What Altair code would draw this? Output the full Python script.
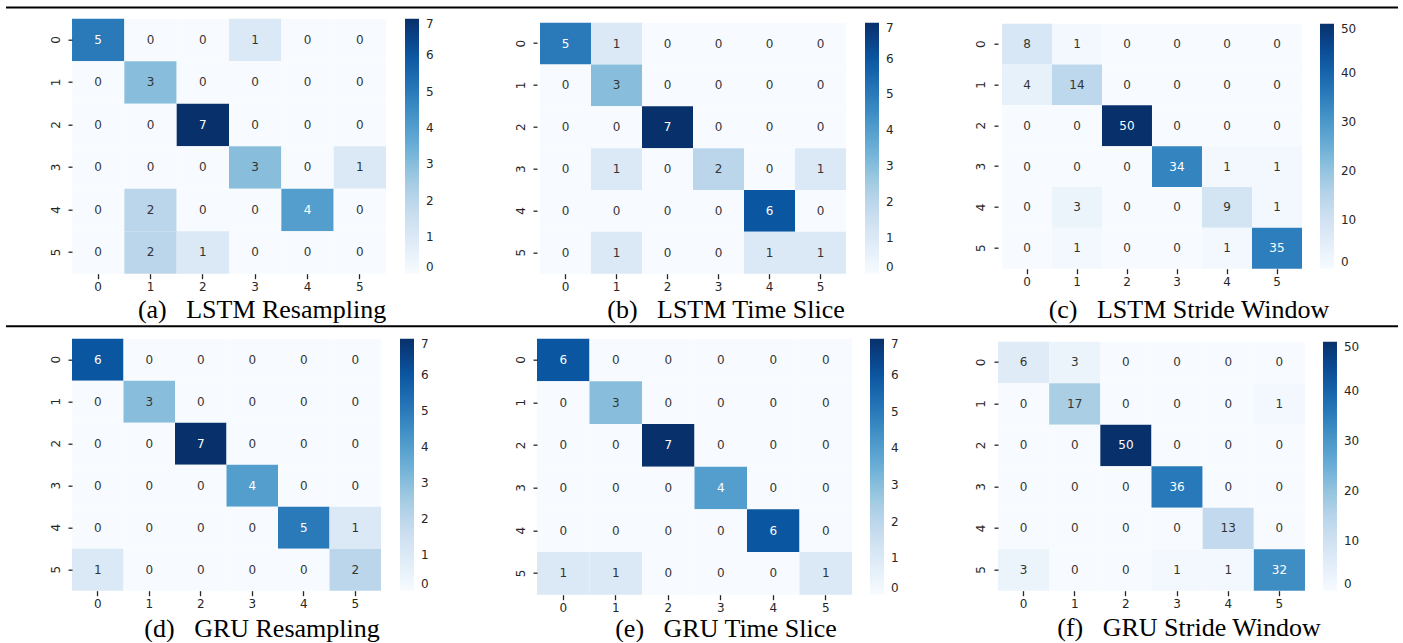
import altair as alt
import pandas as pd

# ---------------- data ----------------
class_labels = [0, 1, 2, 3, 4, 5]

lstm_resampling = [
    [5, 0, 0, 1, 0, 0],
    [0, 3, 0, 0, 0, 0],
    [0, 0, 7, 0, 0, 0],
    [0, 0, 0, 3, 0, 1],
    [0, 2, 0, 0, 4, 0],
    [0, 2, 1, 0, 0, 0],
]
lstm_time_slice = [
    [5, 1, 0, 0, 0, 0],
    [0, 3, 0, 0, 0, 0],
    [0, 0, 7, 0, 0, 0],
    [0, 1, 0, 2, 0, 1],
    [0, 0, 0, 0, 6, 0],
    [0, 1, 0, 0, 1, 1],
]
lstm_stride_window = [
    [8, 1, 0, 0, 0, 0],
    [4, 14, 0, 0, 0, 0],
    [0, 0, 50, 0, 0, 0],
    [0, 0, 0, 34, 1, 1],
    [0, 3, 0, 0, 9, 1],
    [0, 1, 0, 0, 1, 35],
]
gru_resampling = [
    [6, 0, 0, 0, 0, 0],
    [0, 3, 0, 0, 0, 0],
    [0, 0, 7, 0, 0, 0],
    [0, 0, 0, 4, 0, 0],
    [0, 0, 0, 0, 5, 1],
    [1, 0, 0, 0, 0, 2],
]
gru_time_slice = [
    [6, 0, 0, 0, 0, 0],
    [0, 3, 0, 0, 0, 0],
    [0, 0, 7, 0, 0, 0],
    [0, 0, 0, 4, 0, 0],
    [0, 0, 0, 0, 6, 0],
    [1, 1, 0, 0, 0, 1],
]
gru_stride_window = [
    [6, 3, 0, 0, 0, 0],
    [0, 17, 0, 0, 0, 1],
    [0, 0, 50, 0, 0, 0],
    [0, 0, 0, 36, 0, 0],
    [0, 0, 0, 0, 13, 0],
    [3, 0, 0, 1, 1, 32],
]

matrices = [lstm_resampling, lstm_time_slice, lstm_stride_window,
            gru_resampling, gru_time_slice, gru_stride_window]
titles = ["(a)\u00a0\u00a0\u00a0LSTM Resampling",
          "(b)\u00a0\u00a0\u00a0LSTM Time Slice",
          "(c)\u00a0\u00a0\u00a0LSTM Stride Window",
          "(d)\u00a0\u00a0\u00a0GRU Resampling",
          "(e)\u00a0\u00a0\u00a0GRU Time Slice",
          "(f)\u00a0\u00a0\u00a0GRU Stride Window"]
color_max = [7, 7, 50, 7, 7, 50]
colorbar_ticks = [[0, 1, 2, 3, 4, 5, 6, 7], [0, 1, 2, 3, 4, 5, 6, 7],
                  [0, 10, 20, 30, 40, 50], [0, 1, 2, 3, 4, 5, 6, 7],
                  [0, 1, 2, 3, 4, 5, 6, 7], [0, 10, 20, 30, 40, 50]]

blues = ['#f7fbff', '#deebf7', '#c6dbef', '#9ecae1', '#6baed6',
         '#4292c6', '#2171b5', '#08519c', '#08306b']

# ---------------- layout (pixels) ----------------
geom = [
    dict(w=319, h=255, xr=[0, 314], yr=[0, 255], lx=333, dx=30.5, dy=0),
    dict(w=315, h=255, xr=[3, 309], yr=[4, 255], lx=328, dx=31.5, dy=0),
    dict(w=307, h=250, xr=[4, 304], yr=[5, 250], lx=322, dx=37.5, dy=5),
    dict(w=319, h=252, xr=[0, 309], yr=[0, 252], lx=328, dx=30.5, dy=2),
    dict(w=315, h=256, xr=[0, 315], yr=[0, 256], lx=333, dx=31.5, dy=-2),
    dict(w=307, h=252, xr=[0, 307], yr=[3, 252], lx=325, dx=37.5, dy=1),
]
rule_y = {0: -11.3, 3: -12.5}

TICK_FONT = 'DejaVu Sans'
DARK = '#262626'


def panel(i):
    m = matrices[i]
    g = geom[i]
    mx = color_max[i]
    df = pd.DataFrame([
        {'actual': class_labels[r], 'predicted': class_labels[c], 'count': m[r][c]}
        for r in range(6) for c in range(6)
    ])
    dom = [mx * k / 8 for k in range(9)]

    x = alt.X('predicted:O', sort=class_labels,
              scale=alt.Scale(range=g['xr'], paddingInner=0, paddingOuter=0),
              axis=alt.Axis(title=None, labelAngle=0, domain=False, tickSize=5,
                            tickWidth=1.3, tickColor=DARK, labelFont=TICK_FONT,
                            labelFontSize=12, labelColor=DARK, labelPadding=3))
    y = alt.Y('actual:O', sort=class_labels,
              scale=alt.Scale(range=g['yr'], paddingInner=0, paddingOuter=0),
              axis=alt.Axis(title=None, labelAngle=270, domain=False, tickSize=4,
                            tickWidth=1.3, tickColor=DARK, labelFont=TICK_FONT,
                            labelFontSize=12, labelColor=DARK, labelPadding=6))

    base = alt.Chart(df)
    rect = base.mark_rect().encode(
        x=x, y=y,
        color=alt.Color('count:Q', scale=alt.Scale(domain=dom, range=blues),
                        legend=alt.Legend(orient='none', legendX=g['lx'],
                                          legendY=g['yr'][0], direction='vertical',
                                          gradientLength=g['yr'][1] - g['yr'][0],
                                          gradientThickness=14, title=None,
                                          values=colorbar_ticks[i],
                                          labelFont=TICK_FONT, labelFontSize=12,
                                          labelColor=DARK, labelOffset=7,
                                          labelBaseline='middle', labelOverlap=False,
                                          gradientStrokeWidth=0))
    )
    text = base.mark_text(font=TICK_FONT, fontSize=12).encode(
        x=x, y=y, text='count:Q',
        color=alt.condition(f'datum.count > {mx / 2}', alt.value('white'),
                            alt.value('#333333'))
    )
    layers = [rect, text]
    if i in rule_y:
        rule = alt.Chart(pd.DataFrame({'r': [0]})).mark_rule(
            color='black', strokeWidth=2).encode(
            x=alt.value(-66), x2=alt.value(1326), y=alt.value(rule_y[i]))
        layers.append(rule)
    return alt.layer(*layers).properties(
        width=g['w'], height=g['h'],
        title=alt.TitleParams(text=titles[i], orient='bottom', anchor='middle',
                              frame='group', font='Liberation Serif', fontSize=26,
                              fontWeight='normal', color='black', dx=g['dx'],
                              dy=g['dy'], offset=4)
    )


chart = alt.concat(*[panel(i) for i in range(6)], columns=3,
                   spacing={'row': 65, 'column': 146}, bounds='flush', align='each')
chart = chart.resolve_scale(color='independent').configure_view(stroke=None).properties(
    padding={'left': 5, 'top': 5.7, 'right': 0, 'bottom': 0},
    background='white')

chart.save("out.html", embed_options={"renderer": "svg", "actions": False})
